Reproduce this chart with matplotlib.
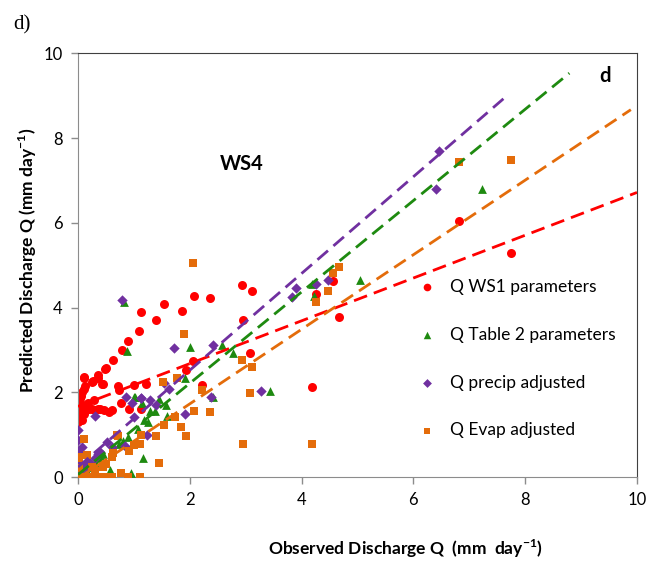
import numpy as np
import matplotlib.pyplot as plt

# observed / predicted discharge (mm/day)
ws1_obs = [0.00, 0.02, 0.01, 0.03, 0.05, 0.02, 0.04, 0.04, 0.06, 0.08, 0.10, 0.12, 0.07, 0.10,
           0.14, 0.16, 0.20, 0.25, 0.30, 0.35, 0.40, 0.46, 0.55, 0.61, 0.28, 0.18, 0.10, 0.25,
           0.36, 0.43, 0.49, 0.11, 0.26, 0.44, 0.50, 0.63, 0.36, 0.73, 0.76, 0.91, 0.72, 1.00,
           1.21, 1.12, 0.79, 0.90, 1.09, 1.40, 1.12, 1.54, 1.86, 2.08, 2.36, 2.93, 3.12,
           2.96, 3.08, 2.05, 1.93, 2.22, 4.26, 4.57, 4.66, 4.19, 6.81, 7.74]
ws1_pred = [1.30, 1.40, 1.46, 1.55, 1.62, 1.70, 1.78, 1.86, 1.92, 2.00, 2.08, 2.15, 1.34, 1.50,
            1.60, 1.66, 1.62, 1.60, 1.58, 1.60, 1.62, 1.58, 1.54, 1.58, 1.82, 1.75, 2.37, 2.25,
            2.34, 2.21, 2.56, 2.35, 2.26, 2.20, 2.58, 2.76, 2.42, 2.05, 1.74, 1.62, 2.15, 2.17,
            2.20, 1.60, 3.00, 3.22, 3.46, 3.70, 3.89, 4.08, 3.92, 4.27, 4.24, 4.53, 4.39,
            3.71, 2.92, 2.75, 2.54, 2.17, 4.33, 4.62, 3.77, 2.12, 6.05, 5.29]

tab2_obs = [0.00, 0.05, 0.10, 0.15, 0.20, 0.30, 0.35, 0.45, 0.57, 0.95, 0.73, 0.60, 0.80, 0.89,
            1.07, 1.16, 1.18, 1.00, 1.14, 1.28, 1.37, 1.45, 1.57, 1.02, 1.91, 0.87, 0.83, 2.00,
            2.58, 2.78, 2.42, 3.43, 4.19, 4.22, 5.04, 7.23, 0.25, 0.40, 1.25, 1.60]
tab2_pred = [0.00, 0.05, 0.12, 0.20, 0.25, 0.35, 0.45, 0.55, 0.17, 0.10, 0.79, 0.65, 0.85, 0.95,
             1.14, 0.44, 1.34, 1.89, 1.75, 1.56, 1.56, 1.84, 1.70, 1.89, 2.33, 2.97, 4.14, 3.07,
             3.13, 2.92, 1.89, 2.04, 4.55, 4.27, 4.66, 6.80, 0.30, 0.50, 1.30, 1.45]

precip_obs = [0.00, 0.00, 0.00, 0.00, 0.00, 0.07, 0.05, 0.10, 0.15, 0.20, 0.30, 0.35, 0.40, 0.51,
              0.60, 0.84, 1.23, 1.00, 0.30, 0.85, 0.96, 1.13, 1.28, 1.40, 1.54, 1.62, 1.91, 2.38,
              1.72, 2.42, 0.78, 3.28, 3.90, 3.83, 4.26, 4.47, 6.40, 6.46, 1.12]
precip_pred = [0.15, 0.33, 0.60, 0.87, 1.11, 0.72, 0.10, 0.20, 0.30, 0.35, 0.45, 0.55, 0.60, 0.82,
               0.70, 0.74, 0.99, 1.41, 1.45, 1.89, 1.74, 1.86, 1.83, 1.71, 2.23, 2.09, 1.50, 1.89,
               3.05, 3.13, 4.17, 2.04, 4.47, 4.25, 4.55, 4.66, 6.80, 7.71, 1.86]

evap_obs = [0.00, 0.05, 0.10, 0.20, 0.30, 0.39, 0.49, 0.60, 0.90, 1.11, 0.76, 0.01, 0.25, 0.45,
            0.02, 0.01, 0.16, 0.61, 0.63, 0.91, 1.00, 1.11, 0.10, 0.72, 1.12, 1.40, 0.70, 1.45,
            1.54, 1.74, 1.85, 1.93, 2.08, 2.36, 1.52, 1.77, 2.21, 1.90, 2.05, 2.93, 3.12, 3.08,
            2.96, 4.19, 4.26, 4.48, 4.57, 4.66, 6.81, 7.74, 0.30, 0.50]
evap_pred = [0.00, 0.00, 0.00, 0.00, 0.00, 0.00, 0.00, 0.00, 0.00, 0.00, 0.09, 0.21, 0.24, 0.24,
             0.44, 0.48, 0.52, 0.48, 0.56, 0.61, 0.75, 0.79, 0.89, 0.97, 0.99, 0.97, 0.99, 0.34,
             1.23, 1.42, 1.19, 0.97, 1.56, 1.54, 2.25, 2.35, 2.05, 3.39, 5.05, 2.76, 2.59, 1.99,
             0.79, 0.79, 4.13, 4.40, 4.82, 4.96, 7.44, 7.48, 0.15, 0.30]

# linear trendlines (slope, intercept, last x) as drawn in the figure
trend_slope = [0.505, 1.078, 1.142, 0.88]
trend_icept = [1.67, 0.06, 0.24, -0.03]
trend_xmax = [10.0, 8.79, 7.61, 9.89]

labels = ['Q WS1 parameters', 'Q Table 2 parameters', 'Q precip adjusted', 'Q Evap adjusted']
colors = ['#FF0000', '#1E8A10', '#7030A0', '#E46C0A']
markers = ['o', '^', 'D', 's']
msizes = [42, 40, 28, 34]

font = 'Lato'
plt.rcParams['mathtext.fontset'] = 'custom'
plt.rcParams['mathtext.rm'] = font
plt.rcParams['mathtext.bf'] = font + ':bold'

fig = plt.figure(figsize=(6.59, 5.66), dpi=100)
ax = fig.add_axes([0.1184, 0.157, 0.8482, 0.7485])

series = [(ws1_obs, ws1_pred), (tab2_obs, tab2_pred), (precip_obs, precip_pred), (evap_obs, evap_pred)]
for i, (xo, yp) in enumerate(series):
    ax.scatter(xo, yp, s=msizes[i], marker=markers[i], color=colors[i], linewidths=0,
               label=labels[i], zorder=2 + i)

for i in range(4):
    xx = np.array([0.0, trend_xmax[i]])
    ax.plot(xx, trend_slope[i] * xx + trend_icept[i], color=colors[i], lw=2.0,
            dashes=(5, 2.6), zorder=7)

ax.set_xlim(0, 10)
ax.set_ylim(0, 10)
ax.set_xticks([0, 2, 4, 6, 8, 10])
ax.set_yticks([0, 2, 4, 6, 8, 10])
ax.tick_params(direction='out', length=5, width=1, color='#8c8c8c', labelsize=12, pad=6)
for lab in ax.get_xticklabels() + ax.get_yticklabels():
    lab.set_fontfamily(font)
ax.spines['left'].set_color('#8c8c8c')
ax.spines['bottom'].set_color('#8c8c8c')
ax.spines['top'].set_color('#404040')
ax.spines['right'].set_color('#404040')

fig.text(28 / 659, 1 - 260 / 566, 'Predicted Discharge Q (mm day$^{\\mathbf{-1}}$)', rotation=90,
         ha='center', va='center', fontsize=12.5, fontweight='bold', family=font)
fig.text(405 / 659, 1 - 549 / 566, 'Observed Discharge Q  (mm  day$^{\\mathbf{-1}}$)',
         ha='center', va='center', fontsize=12.5, fontweight='bold', family=font)

ax.text(2.93, 7.4, 'WS4', ha='center', va='center', fontsize=14.5, fontweight='bold', family=font)
ax.text(9.42, 9.46, 'd', ha='center', va='center', fontsize=14.5, fontweight='bold', family=font)
fig.text(13 / 659, 1 - 25 / 566, 'd)', ha='left', va='center', fontsize=15,
         family='Liberation Serif')

leg = ax.legend(loc='upper left', bbox_to_anchor=(0.597, 0.485), frameon=False,
                prop={'family': font, 'size': 12.5}, labelspacing=1.84, markerscale=0.85,
                handlelength=1.0, handletextpad=0.8, borderaxespad=0)

plt.savefig('out.png', dpi=100)
